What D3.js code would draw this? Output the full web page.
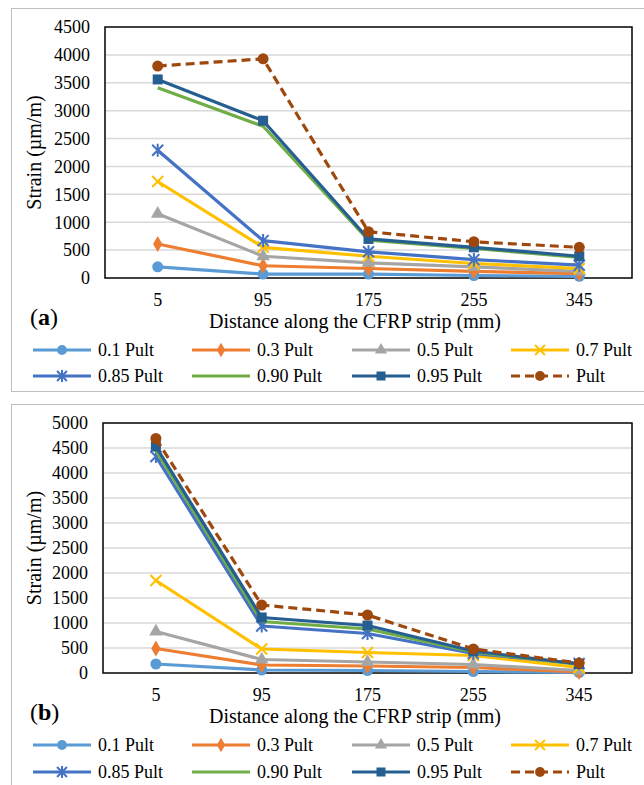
<!DOCTYPE html>
<html>
<head>
<meta charset="utf-8">
<script src="https://cdn.jsdelivr.net/npm/d3@7"></script>
<style>
  body { margin: 0; background: #fff; }
</style>
</head>
<body>
<div id="svg-container"></div>
<script>
// data
const distances = ["5", "95", "175", "255", "345"];
const seriesNames = ["0.1 Pult", "0.3 Pult", "0.5 Pult", "0.7 Pult", "0.85 Pult", "0.90 Pult", "0.95 Pult", "Pult"];

// panel (a)
const a01 = [200, 70, 70, 45, 30];
const a03 = [610, 220, 170, 120, 80];
const a05 = [1150, 390, 270, 200, 120];
const a07 = [1730, 550, 390, 260, 170];
const a085 = [2290, 670, 470, 330, 230];
const a090 = [3410, 2720, 680, 530, 370];
const a095 = [3560, 2820, 700, 550, 390];
const aPult = [3800, 3930, 830, 650, 550];

// panel (b)
const b01 = [180, 60, 50, 30, 10];
const b03 = [490, 160, 140, 110, 20];
const b05 = [830, 270, 220, 170, 50];
const b07 = [1850, 480, 410, 350, 110];
const b085 = [4330, 940, 790, 390, 190];
const b090 = [4450, 1030, 880, 420, 170];
const b095 = [4530, 1110, 950, 440, 180];
const bPult = [4690, 1360, 1160, 480, 200];

const yTicksA = d3.range(0, 4501, 500);
const yTicksB = d3.range(0, 5001, 500);

////////////////////////////////////////////////////////////////////
// styles
const colors = ["#5B9BD5", "#ED7D31", "#A5A5A5", "#FFC000", "#4472C4", "#70AD47", "#255E91", "#9E480E"];
const markers = ["circle", "diamond", "triangle", "x", "star", "none", "square", "circle"];
const FONT = "'Liberation Serif'";

const svg = d3.select("#svg-container").append("svg")
  .attr("width", 644).attr("height", 785);

const addText = (sel, size) => sel.append("text")
  .attr("font-family", FONT).attr("font-size", size).attr("fill", "#000");

const drawMarker = (g, type, x, y, color, s) => {
  if (type === "circle") {
    g.append("circle").attr("cx", x).attr("cy", y).attr("r", s * 0.55).attr("fill", color);
  } else if (type === "square") {
    g.append("rect").attr("x", x - s / 2).attr("y", y - s / 2).attr("width", s).attr("height", s).attr("fill", color);
  } else if (type === "diamond") {
    g.append("path").attr("d", d3.symbol(d3.symbolDiamond, s * s * 0.75)()).attr("transform", `translate(${x},${y})`).attr("fill", color);
  } else if (type === "triangle") {
    g.append("path").attr("d", d3.symbol(d3.symbolTriangle, s * s * 0.8)()).attr("transform", `translate(${x},${y})`).attr("fill", color);
  } else if (type === "x" || type === "star") {
    const h = s * 0.55;
    g.append("path")
      .attr("d", `M${x - h},${y - h}L${x + h},${y + h}M${x - h},${y + h}L${x + h},${y - h}` + (type === "star" ? `M${x},${y - h * 1.2}L${x},${y + h * 1.2}` : ""))
      .attr("stroke", color).attr("stroke-width", 2).attr("fill", "none");
  }
};

const drawPanel = (cfg) => {
  const { box, plot, series, yMax, yTicks, label, legendY } = cfg;

  // outer frame
  svg.append("rect")
    .attr("x", box.x).attr("y", box.y).attr("width", box.w).attr("height", box.h)
    .attr("fill", "none").attr("stroke", "#BFBFBF").attr("stroke-width", 1);

  const x = d3.scaleBand().domain(distances).range([plot.left, plot.right]);
  const y = d3.scaleLinear().domain([0, yMax]).range([plot.bottom, plot.top]);

  // grid
  svg.append("g").selectAll("line").data(yTicks.filter(d => d > 0 && d < yMax)).join("line")
    .attr("x1", plot.left).attr("x2", plot.right)
    .attr("y1", d => y(d)).attr("y2", d => y(d))
    .attr("stroke", "#D9D9D9").attr("stroke-width", 1.5);

  // y tick labels
  svg.append("g").selectAll("text").data(yTicks).join("text")
    .attr("font-family", FONT).attr("font-size", 18)
    .attr("x", plot.left - 15).attr("y", d => y(d))
    .attr("dy", "0.35em").attr("text-anchor", "end")
    .text(d => d);

  // x tick labels
  svg.append("g").selectAll("text").data(distances).join("text")
    .attr("font-family", FONT).attr("font-size", 18)
    .attr("x", d => x(d) + x.bandwidth() / 2).attr("y", plot.bottom + 22)
    .attr("dy", "0.35em").attr("text-anchor", "middle")
    .text(d => d);

  // plot border
  svg.append("rect")
    .attr("x", plot.left).attr("y", plot.top)
    .attr("width", plot.right - plot.left).attr("height", plot.bottom - plot.top)
    .attr("fill", "none").attr("stroke", "#000").attr("stroke-width", 1.5);

  // lines
  const line = d3.line()
    .x((d, i) => x(distances[i]) + x.bandwidth() / 2)
    .y(d => y(d));

  series.forEach((vals, si) => {
    svg.append("path").datum(vals)
      .attr("d", line).attr("fill", "none")
      .attr("stroke", colors[si]).attr("stroke-width", 3.2)
      .attr("stroke-linejoin", "round")
      .attr("stroke-dasharray", si === 7 ? "9,5" : null);
    const mg = svg.append("g");
    vals.forEach((v, i) => drawMarker(mg, markers[si], x(distances[i]) + x.bandwidth() / 2, y(v), colors[si], 10));
  });

  // axis titles
  addText(svg, 20)
    .attr("transform", `translate(41,${(plot.top + plot.bottom) / 2}) rotate(-90)`)
    .attr("text-anchor", "middle")
    .text("Strain (µm/m)");

  addText(svg, 20)
    .attr("x", 355).attr("y", plot.bottom + 43).attr("dy", "0.35em")
    .attr("text-anchor", "middle")
    .text("Distance along the CFRP strip (mm)");

  const lab = addText(svg, 24)
    .attr("x", 30).attr("y", plot.bottom + 39).attr("dy", "0.35em");
  lab.append("tspan").text("(");
  lab.append("tspan").attr("font-weight", "bold").text(label);
  lab.append("tspan").text(")");

  // legend
  const colX = [33, 192, 352, 511];
  seriesNames.forEach((name, si) => {
    const lx = colX[si % 4];
    const ly = legendY[Math.floor(si / 4)];
    const lg = svg.append("g");
    lg.append("line")
      .attr("x1", lx).attr("x2", lx + 58).attr("y1", ly).attr("y2", ly)
      .attr("stroke", colors[si]).attr("stroke-width", 3.2)
      .attr("stroke-dasharray", si === 7 ? "9,5" : null);
    drawMarker(lg, markers[si], lx + 29, ly, colors[si], 9);
    addText(lg, 18)
      .attr("x", lx + 65).attr("y", ly).attr("dy", "0.35em")
      .text(name);
  });
};

drawPanel({
  box: { x: 11.5, y: 8.5, w: 640, h: 383 },
  plot: { left: 105, right: 632, top: 27, bottom: 278 },
  series: [a01, a03, a05, a07, a085, a090, a095, aPult],
  yMax: 4500,
  yTicks: yTicksA,
  label: "a",
  legendY: [350, 376]
});

drawPanel({
  box: { x: 11.5, y: 404.5, w: 640, h: 390 },
  plot: { left: 103, right: 632, top: 423, bottom: 673 },
  series: [b01, b03, b05, b07, b085, b090, b095, bPult],
  yMax: 5000,
  yTicks: yTicksB,
  label: "b",
  legendY: [745, 772]
});
</script>
</body>
</html>
